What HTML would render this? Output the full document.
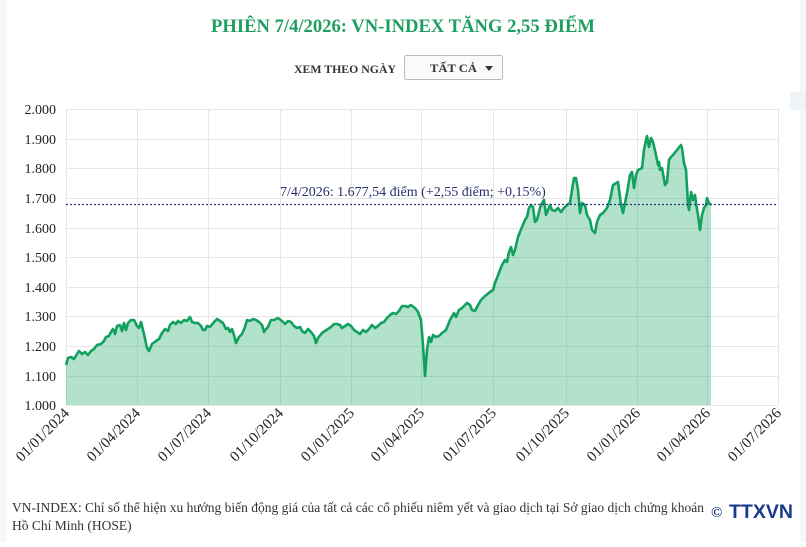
<!DOCTYPE html>
<html><head><meta charset="utf-8"><style>
body{margin:0;background:#fff;width:806px;height:542px;overflow:hidden;font-family:"Liberation Serif",serif;}
</style></head><body>
<svg width="806" height="542" xmlns="http://www.w3.org/2000/svg" font-family="Liberation Serif, serif">
<rect width="806" height="542" fill="#fff"/>
<rect x="0" y="0" width="6" height="542" fill="#f7f7f7"/>
<rect x="800" y="0" width="6" height="542" fill="#f7f7f7"/>
<rect x="790" y="92" width="16" height="18" fill="#eef3f8"/>
<text x="403" y="32" text-anchor="middle" font-size="19" font-weight="bold" fill="#1e9e60" textLength="384" lengthAdjust="spacingAndGlyphs">PHIÊN 7/4/2026: VN-INDEX TĂNG 2,55 ĐIỂM</text>
<text x="294" y="73" font-size="12" font-weight="bold" fill="#333" textLength="102" lengthAdjust="spacingAndGlyphs">XEM THEO NGÀY</text>
<rect x="404.5" y="55.5" width="98" height="24" rx="2" fill="#fafafa" stroke="#bbb"/>
<text x="430" y="72" font-size="12" font-weight="bold" fill="#333" textLength="47" lengthAdjust="spacingAndGlyphs">TẤT CẢ</text>
<path d="M485 66 L493 66 L489 71 Z" fill="#333"/>
<g stroke="#e6e6e6" stroke-width="1">
<line x1="66" x2="778" y1="109.5" y2="109.5"/><line x1="66" x2="778" y1="139.5" y2="139.5"/><line x1="66" x2="778" y1="168.5" y2="168.5"/><line x1="66" x2="778" y1="198.5" y2="198.5"/><line x1="66" x2="778" y1="228.5" y2="228.5"/><line x1="66" x2="778" y1="257.5" y2="257.5"/><line x1="66" x2="778" y1="287.5" y2="287.5"/><line x1="66" x2="778" y1="316.5" y2="316.5"/><line x1="66" x2="778" y1="346.5" y2="346.5"/><line x1="66" x2="778" y1="376.5" y2="376.5"/><line x1="66" x2="778" y1="405.5" y2="405.5"/>
<line x1="66.5" x2="66.5" y1="109" y2="405"/><line x1="137.5" x2="137.5" y1="109" y2="405"/><line x1="208.5" x2="208.5" y1="109" y2="405"/><line x1="280.5" x2="280.5" y1="109" y2="405"/><line x1="351.5" x2="351.5" y1="109" y2="405"/><line x1="421.5" x2="421.5" y1="109" y2="405"/><line x1="493.5" x2="493.5" y1="109" y2="405"/><line x1="566.5" x2="566.5" y1="109" y2="405"/><line x1="637.5" x2="637.5" y1="109" y2="405"/><line x1="707.5" x2="707.5" y1="109" y2="405"/><line x1="778.5" x2="778.5" y1="109" y2="405"/>
</g>
<g font-size="14" fill="#222" text-anchor="end">
<text x="56" y="114">2.000</text><text x="56" y="144">1.900</text><text x="56" y="173">1.800</text><text x="56" y="203">1.700</text><text x="56" y="233">1.600</text><text x="56" y="262">1.500</text><text x="56" y="292">1.400</text><text x="56" y="321">1.300</text><text x="56" y="351">1.200</text><text x="56" y="381">1.100</text><text x="56" y="410">1.000</text>
</g>
<g font-size="15" fill="#222" text-anchor="end">
<text transform="translate(70,414) rotate(-45)">01/01/2024</text>
<text transform="translate(141,414) rotate(-45)">01/04/2024</text>
<text transform="translate(212,414) rotate(-45)">01/07/2024</text>
<text transform="translate(284,414) rotate(-45)">01/10/2024</text>
<text transform="translate(355,414) rotate(-45)">01/01/2025</text>
<text transform="translate(425,414) rotate(-45)">01/04/2025</text>
<text transform="translate(497,414) rotate(-45)">01/07/2025</text>
<text transform="translate(570,414) rotate(-45)">01/10/2025</text>
<text transform="translate(641,414) rotate(-45)">01/01/2026</text>
<text transform="translate(711,414) rotate(-45)">01/04/2026</text>
<text transform="translate(782,414) rotate(-45)">01/07/2026</text>
</g>
<polygon fill="#1eaa6a" fill-opacity="0.34" points="66,405 66,365 68,358 71,357 74,359 77,354 79,351 82,354 85,352 88,355 91,351 94,349 97,345 101,344 104,341 106,337 109,336 111,332 113,329 115,334 117,326 120,325 122,331 124,323 126,330 128,323 131,320 134,320 137,326 139,328 141,322 144,334 147,348 149,351 152,344 156,341 159,339 162,333 165,329 168,331 170,325 173,322 176,324 178,321 181,323 184,320 187,321 190,317 192,322 195,323 198,323 201,326 203,330 205,330 207,326 210,327 214,322 217,319 220,321 223,323 226,329 228,328 230,332 232,329 234,335 236,343 239,337 242,334 245,327 247,320 250,321 253,319 256,320 259,322 262,325 264,332 266,329 268,327 271,320 274,320 278,318 282,321 285,324 288,321 291,322 294,326 297,328 300,327 302,331 305,333 308,329 311,332 314,336 316,343 318,338 322,333 325,331 328,329 331,327 334,324 337,324 340,325 342,328 345,326 348,324 351,326 354,330 357,332 360,334 363,330 366,332 369,329 372,325 375,328 378,326 381,323 384,322 387,318 390,315 393,313 396,314 399,311 402,306 405,306 408,307 411,305 415,308 418,312 421,320 423,345 425,376 427,350 429,337 431,342 433,335 436,337 439,336 442,333 446,330 450,320 454,313 456,317 459,310 462,308 465,305 467,303 470,305 472,310 475,311 478,305 481,300 485,296 490,292 493,290 495,283 497,278 500,270 502,265 505,260 507,262 509,252 511,247 513,255 515,250 518,237 520,232 522,227 525,220 527,217 529,208 531,205 533,207 535,222 537,220 540,208 542,203 544,200 546,215 548,210 550,205 552,210 555,211 558,208 561,212 564,208 567,205 570,203 572,190 574,178 576,178 578,190 580,213 582,203 585,205 587,215 590,220 592,230 595,233 597,222 600,215 603,213 607,208 610,200 613,185 618,182 621,205 623,213 627,193 630,175 632,172 634,188 636,175 638,170 642,168 644,150 646,140 647,136 649,147 651,138 653,142 656,155 658,165 659,162 660,170 662,168 665,185 667,182 669,160 671,157 673,155 677,150 681,145 682,148 684,163 686,170 688,205 689,210 691,192 693,200 695,195 696,203 698,215 700,230 702,215 704,208 706,205 707,198 709,203 711,205 711,405"/>
<polyline fill="none" stroke="#11a05e" stroke-width="2.6" stroke-linejoin="round" points="66,365 68,358 71,357 74,359 77,354 79,351 82,354 85,352 88,355 91,351 94,349 97,345 101,344 104,341 106,337 109,336 111,332 113,329 115,334 117,326 120,325 122,331 124,323 126,330 128,323 131,320 134,320 137,326 139,328 141,322 144,334 147,348 149,351 152,344 156,341 159,339 162,333 165,329 168,331 170,325 173,322 176,324 178,321 181,323 184,320 187,321 190,317 192,322 195,323 198,323 201,326 203,330 205,330 207,326 210,327 214,322 217,319 220,321 223,323 226,329 228,328 230,332 232,329 234,335 236,343 239,337 242,334 245,327 247,320 250,321 253,319 256,320 259,322 262,325 264,332 266,329 268,327 271,320 274,320 278,318 282,321 285,324 288,321 291,322 294,326 297,328 300,327 302,331 305,333 308,329 311,332 314,336 316,343 318,338 322,333 325,331 328,329 331,327 334,324 337,324 340,325 342,328 345,326 348,324 351,326 354,330 357,332 360,334 363,330 366,332 369,329 372,325 375,328 378,326 381,323 384,322 387,318 390,315 393,313 396,314 399,311 402,306 405,306 408,307 411,305 415,308 418,312 421,320 423,345 425,376 427,350 429,337 431,342 433,335 436,337 439,336 442,333 446,330 450,320 454,313 456,317 459,310 462,308 465,305 467,303 470,305 472,310 475,311 478,305 481,300 485,296 490,292 493,290 495,283 497,278 500,270 502,265 505,260 507,262 509,252 511,247 513,255 515,250 518,237 520,232 522,227 525,220 527,217 529,208 531,205 533,207 535,222 537,220 540,208 542,203 544,200 546,215 548,210 550,205 552,210 555,211 558,208 561,212 564,208 567,205 570,203 572,190 574,178 576,178 578,190 580,213 582,203 585,205 587,215 590,220 592,230 595,233 597,222 600,215 603,213 607,208 610,200 613,185 618,182 621,205 623,213 627,193 630,175 632,172 634,188 636,175 638,170 642,168 644,150 646,140 647,136 649,147 651,138 653,142 656,155 658,165 659,162 660,170 662,168 665,185 667,182 669,160 671,157 673,155 677,150 681,145 682,148 684,163 686,170 688,205 689,210 691,192 693,200 695,195 696,203 698,215 700,230 702,215 704,208 706,205 707,198 709,203 711,205"/>
<line x1="66" x2="778" y1="204.5" y2="204.5" stroke="#2a3580" stroke-width="1.3" stroke-dasharray="2,2"/>
<text x="280" y="196" font-size="14" fill="#27306e">7/4/2026: 1.677,54 điểm (+2,55 điểm; +0,15%)</text>
<text x="12" y="512" font-size="13.5" fill="#333" textLength="692" lengthAdjust="spacingAndGlyphs">VN-INDEX: Chỉ số thể hiện xu hướng biến động giá của tất cả các cổ phiếu niêm yết và giao dịch tại Sở giao dịch chứng khoán</text>
<text x="12" y="530" font-size="13.5" fill="#333">Hồ Chí Minh (HOSE)</text>
<text x="711" y="517" font-size="15" font-weight="bold" fill="#1a3a8a">©</text>
<text x="729" y="518" font-family="Liberation Sans, sans-serif" font-size="19" font-weight="bold" fill="#1a3a8a" textLength="64" lengthAdjust="spacingAndGlyphs">TTXVN</text>
</svg>
</body></html>
